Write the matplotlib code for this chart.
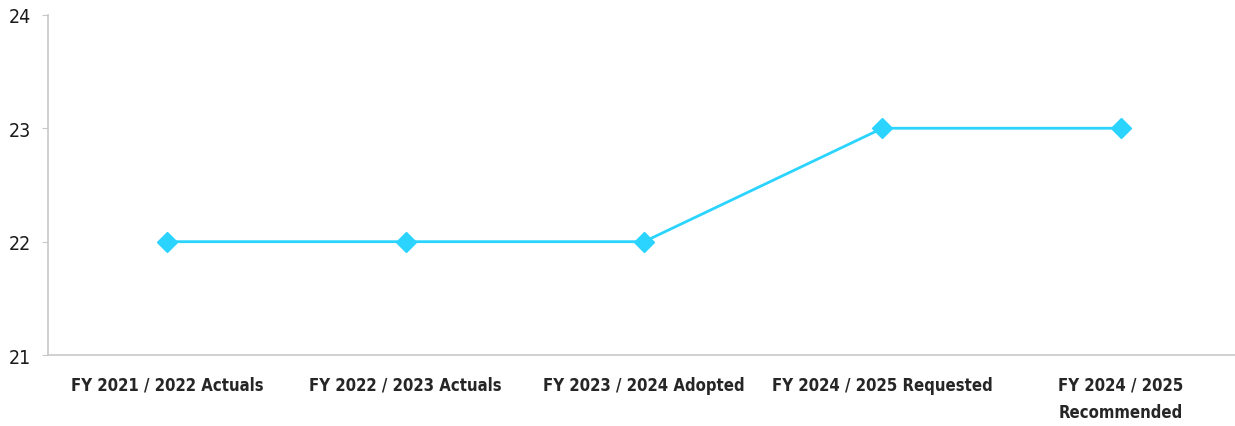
import matplotlib.pyplot as plt

# categories and values
categories = ['FY 2021 / 2022 Actuals', 'FY 2022 / 2023 Actuals', 'FY 2023 / 2024 Adopted',
              'FY 2024 / 2025 Requested', 'FY 2024 / 2025\nRecommended']
values = [22, 22, 22, 23, 23]
yticks = [21, 22, 23, 24]

plt.rcParams['font.family'] = ['DejaVu Sans']
plt.rcParams['font.stretch'] = 'condensed'

fig = plt.figure(figsize=(12.35, 4.27), dpi=100)
ax = fig.add_axes([0.039, 0.166, 0.965, 0.797])

x = list(range(len(categories)))
ax.plot(x, values, color='#2BD4FF', linewidth=2, marker='D', markersize=10,
        markerfacecolor='#2BD4FF', markeredgecolor='#2BD4FF')

ax.set_xlim(-0.5, len(categories) - 0.5)
ax.set_ylim(21, 24)
ax.set_yticks(yticks)
ax.set_xticks(x)
ax.set_xticklabels(categories, fontsize=12, fontweight='bold', color='#262626',
                   linespacing=1.65, fontstretch='condensed')
ax.tick_params(axis='x', length=0, pad=15)
ax.tick_params(axis='y', length=4.5, color='#c8c8c8', labelsize=14, labelcolor='#1a1a1a', pad=8)
for lbl in ax.get_yticklabels():
    lbl.set_fontstretch('condensed')

for s in ['top', 'right']:
    ax.spines[s].set_visible(False)
for s in ['left', 'bottom']:
    ax.spines[s].set_color('#c8c8c8')
    ax.spines[s].set_linewidth(1.2)

fig.savefig('out.png', dpi=100)
